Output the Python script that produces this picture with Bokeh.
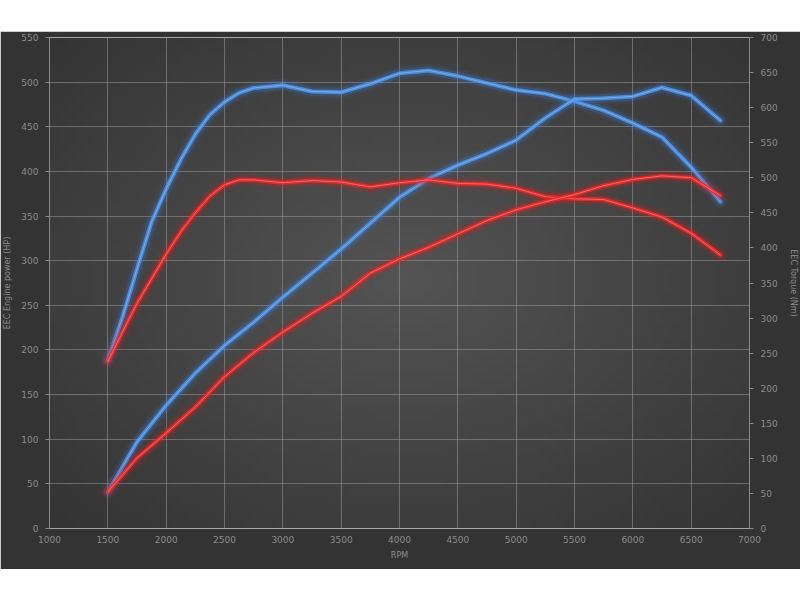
import numpy as np
from bokeh.embed import file_html
from bokeh.layouts import column
from bokeh.models import ColumnDataSource, FixedTicker, LinearAxis, Range1d, Spacer
from bokeh.plotting import figure
from bokeh.resources import INLINE

# power readings every 250 rpm, taken off the dyno sheet
power_rpm = [1500, 1750, 2000, 2250, 2500, 2750, 3000, 3250, 3500, 3750, 4000,
             4250, 4500, 4750, 5000, 5250, 5500, 5750, 6000, 6250, 6500, 6750]
tuned_power_hp = [41, 97, 138, 174, 205, 231, 259, 286, 313, 342, 371,
                  392, 407, 420, 435, 460, 481, 482, 484, 494, 485, 457]
stock_power_hp = [41, 79, 107, 136, 170, 197, 220, 241, 260, 286, 302,
                  315, 330, 345, 357, 366, 374, 384, 391, 395, 393, 373]

# torque readings, denser where the curves bend at the low end
torque_rpm = [1500, 1625, 1750, 1875, 2000, 2125, 2250, 2375, 2500, 2625, 2750,
              3000, 3250, 3500, 3750, 4000, 4250, 4500, 4750, 5000, 5250, 5500,
              5750, 6000, 6250, 6500, 6750]
tuned_torque_nm = [240, 301, 370, 437, 484, 526, 562, 590, 608, 621, 628,
                   632, 623, 622, 634, 649, 653, 645, 635, 625, 620, 609,
                   596, 578, 558, 515, 466]
stock_torque_nm = [238, 280, 321, 356, 391, 423, 450, 474, 490, 497, 497,
                   493, 496, 494, 487, 493, 497, 492, 491, 485, 473, 470,
                   469, 457, 444, 421, 390]

x_ticks = list(range(1000, 7001, 500))
hp_ticks = list(range(0, 551, 50))
nm_ticks = list(range(0, 701, 50))

FONT = "DejaVu Sans"
TEXT = "#8c8c8c"

power = ColumnDataSource(data=dict(rpm=power_rpm, tuned=tuned_power_hp,
                                   stock=stock_power_hp))
torque = ColumnDataSource(data=dict(rpm=torque_rpm, tuned=tuned_torque_nm,
                                    stock=stock_torque_nm))

p = figure(width=800, height=538, output_backend="svg", toolbar_location=None,
           x_range=Range1d(1000, 7000), y_range=Range1d(0, 550),
           min_border_left=42, min_border_right=43, min_border_top=6,
           min_border_bottom=41)
p.extra_y_ranges = {"torque": Range1d(0, 700)}
p.border_fill_color = "#333333"
p.outline_line_color = None

# soft radial shading behind the curves
ny, nx = 60, 80
yy, xx = np.mgrid[0:ny, 0:nx]
d = np.sqrt(((xx - nx / 2) / (nx / 2)) ** 2 + ((yy - ny / 2) / (ny / 2)) ** 2) / np.sqrt(2)
g = (84 - 32 * d).astype(np.uint8)
img = np.empty((ny, nx), dtype=np.uint32)
view = img.view(dtype=np.uint8).reshape((ny, nx, 4))
view[:, :, 0] = g
view[:, :, 1] = g
view[:, :, 2] = g
view[:, :, 3] = 255
p.image_rgba(image=[img], x=1000, y=0, dw=6000, dh=550, level="image")

p.grid.grid_line_color = "#a0a0a0"
p.grid.grid_line_alpha = 0.5
p.xgrid.ticker = FixedTicker(ticks=x_ticks)
p.ygrid.ticker = FixedTicker(ticks=hp_ticks)

p.xaxis.ticker = FixedTicker(ticks=x_ticks)
p.xaxis.axis_label = "RPM"
p.xaxis.major_tick_out = 0
p.xaxis.major_tick_in = 0
p.xaxis.major_label_standoff = 7
p.xaxis.axis_label_standoff = 5
p.xaxis.axis_line_color = None

p.yaxis.ticker = FixedTicker(ticks=hp_ticks)
p.yaxis.axis_label = "EEC Engine power (HP)"
p.yaxis.major_label_standoff = 7
p.yaxis.axis_label_standoff = 6

right = LinearAxis(y_range_name="torque", ticker=FixedTicker(ticks=nm_ticks),
                   axis_label="EEC Torque (Nm)", major_label_standoff=7,
                   axis_label_standoff=8)
p.add_layout(right, "right")

for ax in [p.xaxis[0], p.yaxis[0], right]:
    ax.major_label_text_font = FONT
    ax.major_label_text_font_size = "9px"
    ax.major_label_text_color = TEXT
    ax.axis_label_text_font = FONT
    ax.axis_label_text_font_size = "8px"
    ax.axis_label_text_font_style = "normal"
    ax.axis_label_text_color = TEXT
    ax.minor_tick_line_color = None
for ax in [p.yaxis[0], right]:
    ax.major_tick_out = 4
    ax.major_tick_in = 0
    ax.major_tick_line_color = "#8a8a8a"
    ax.axis_line_color = "#8a8a8a"


def glow(source, y, color, core, hi, y_range_name="default"):
    kw = dict(x="rpm", y=y, source=source, y_range_name=y_range_name,
              line_join="round", line_cap="round")
    p.line(line_color=color, line_width=14, line_alpha=0.08, **kw)
    p.line(line_color=color, line_width=9, line_alpha=0.2, **kw)
    p.line(line_color=core, line_width=4, line_alpha=0.85, **kw)
    p.line(line_color=hi, line_width=1, line_alpha=0.55, **kw)


glow(torque, "tuned", "#3b82e0", "#4f95ea", "#9cc8ff", "torque")
glow(power, "tuned", "#3b82e0", "#4f95ea", "#9cc8ff")
glow(torque, "stock", "#e01e1e", "#f02a2a", "#ff9a9a", "torque")
glow(power, "stock", "#e01e1e", "#f02a2a", "#ff9a9a")

layout = column(Spacer(height=31), p)
open("out.html", "w").write(file_html(layout, INLINE))
